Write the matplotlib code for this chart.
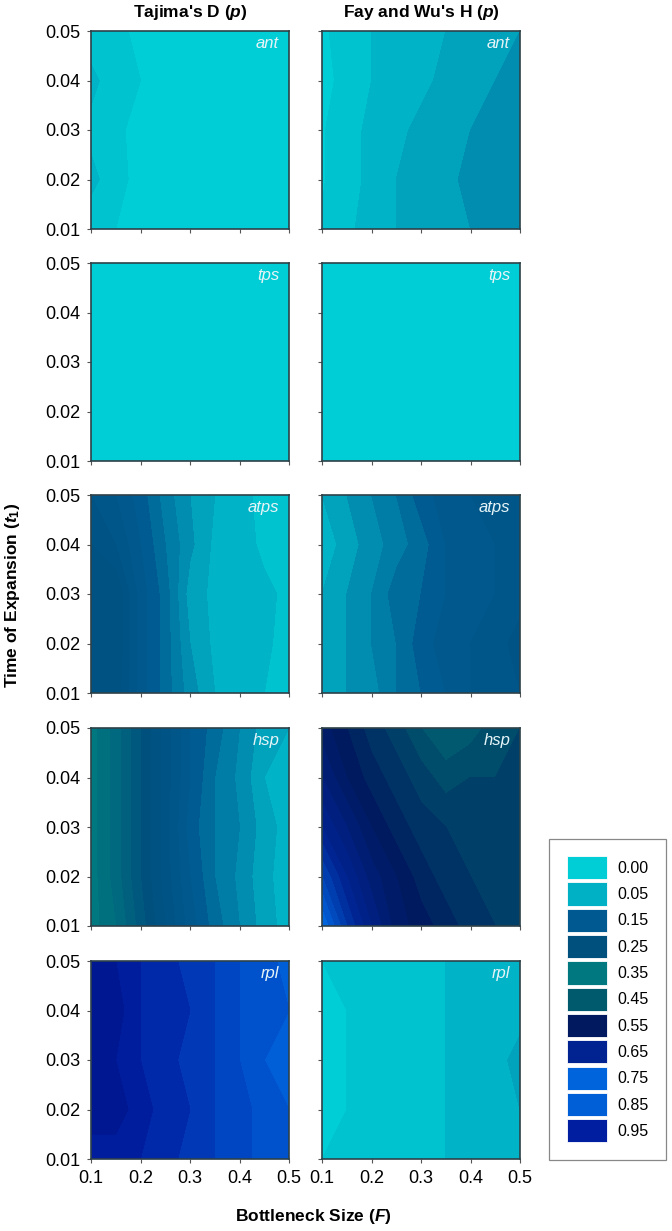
import numpy as np
import matplotlib
matplotlib.use('Agg')
import matplotlib.pyplot as plt
from matplotlib.colors import LinearSegmentedColormap
from matplotlib.patches import Patch

plt.rcParams['font.family'] = ['Liberation Sans', 'DejaVu Sans']
plt.rcParams['mathtext.fontset'] = 'custom'
plt.rcParams['mathtext.it'] = 'Liberation Sans:italic:bold'
plt.rcParams['mathtext.rm'] = 'Liberation Sans:bold'
plt.rcParams['mathtext.bf'] = 'Liberation Sans:bold'

# grid: bottleneck size (F) by time of expansion (t1)
F = [0.1, 0.15, 0.2, 0.25, 0.3, 0.35, 0.4, 0.45, 0.5]
t1 = [0.01, 0.02, 0.03, 0.04, 0.05]

# p-values, rows = t1 (bottom to top), cols = F
tajima_ant = [[0.03, 0.02, 0.008, 0.0, 0.0, 0.0, 0.0, 0.0, 0.0],
              [0.045, 0.03, 0.01, 0.0, 0.0, 0.0, 0.0, 0.0, 0.0],
              [0.035, 0.025, 0.012, 0.0, 0.0, 0.0, 0.0, 0.0, 0.0],
              [0.045, 0.03, 0.02, 0.01, 0.0, 0.0, 0.0, 0.0, 0.0],
              [0.03, 0.025, 0.015, 0.005, 0.0, 0.0, 0.0, 0.0, 0.0]]
fay_ant = [[0.022, 0.035, 0.05, 0.06, 0.07, 0.075, 0.08, 0.085, 0.09],
           [0.018, 0.032, 0.045, 0.06, 0.07, 0.078, 0.082, 0.095, 0.098],
           [0.018, 0.032, 0.045, 0.055, 0.065, 0.075, 0.08, 0.095, 0.098],
           [0.015, 0.025, 0.04, 0.05, 0.055, 0.065, 0.075, 0.08, 0.085],
           [0.018, 0.025, 0.04, 0.045, 0.055, 0.06, 0.07, 0.075, 0.08]]
tajima_tps = [[0.0, 0.0, 0.0, 0.0, 0.0, 0.0, 0.0, 0.0, 0.0],
              [0.0, 0.0, 0.0, 0.0, 0.0, 0.0, 0.0, 0.0, 0.0],
              [0.0, 0.0, 0.0, 0.0, 0.0, 0.0, 0.0, 0.0, 0.0],
              [0.0, 0.0, 0.0, 0.0, 0.0, 0.0, 0.0, 0.0, 0.0],
              [0.0, 0.0, 0.0, 0.0, 0.0, 0.0, 0.0, 0.0, 0.0]]
fay_tps = [[0.0, 0.0, 0.0, 0.0, 0.0, 0.0, 0.0, 0.0, 0.0],
           [0.0, 0.0, 0.0, 0.0, 0.0, 0.0, 0.0, 0.0, 0.0],
           [0.0, 0.0, 0.0, 0.0, 0.0, 0.0, 0.0, 0.0, 0.0],
           [0.0, 0.0, 0.0, 0.0, 0.0, 0.0, 0.0, 0.0, 0.0],
           [0.0, 0.0, 0.0, 0.0, 0.0, 0.0, 0.0, 0.0, 0.0]]
tajima_atps = [[0.22, 0.23, 0.17, 0.13, 0.09, 0.06, 0.055, 0.04, 0.03],
               [0.24, 0.24, 0.17, 0.13, 0.08, 0.055, 0.05, 0.045, 0.03],
               [0.24, 0.24, 0.17, 0.13, 0.07, 0.055, 0.05, 0.045, 0.035],
               [0.22, 0.2, 0.16, 0.12, 0.085, 0.055, 0.05, 0.035, 0.03],
               [0.2, 0.18, 0.15, 0.11, 0.08, 0.06, 0.045, 0.035, 0.03]]
fay_atps = [[0.06, 0.08, 0.09, 0.12, 0.14, 0.16, 0.18, 0.19, 0.2],
            [0.06, 0.08, 0.1, 0.12, 0.15, 0.17, 0.18, 0.19, 0.21],
            [0.06, 0.08, 0.1, 0.13, 0.14, 0.16, 0.17, 0.18, 0.19],
            [0.045, 0.07, 0.09, 0.11, 0.13, 0.16, 0.17, 0.18, 0.19],
            [0.06, 0.08, 0.1, 0.12, 0.15, 0.17, 0.18, 0.19, 0.2]]
tajima_hsp = [[0.35, 0.32, 0.27, 0.22, 0.17, 0.13, 0.1, 0.07, 0.05],
              [0.35, 0.31, 0.26, 0.21, 0.16, 0.12, 0.095, 0.065, 0.05],
              [0.35, 0.31, 0.26, 0.21, 0.15, 0.12, 0.1, 0.07, 0.05],
              [0.35, 0.31, 0.26, 0.21, 0.16, 0.12, 0.095, 0.06, 0.04],
              [0.35, 0.31, 0.26, 0.21, 0.16, 0.13, 0.1, 0.07, 0.06]]
fay_hsp = [[0.76, 0.68, 0.62, 0.57, 0.55, 0.53, 0.51, 0.5, 0.5],
           [0.7, 0.64, 0.59, 0.56, 0.53, 0.51, 0.5, 0.5, 0.5],
           [0.64, 0.6, 0.56, 0.53, 0.51, 0.5, 0.49, 0.49, 0.49],
           [0.6, 0.56, 0.53, 0.51, 0.49, 0.47, 0.48, 0.48, 0.49],
           [0.57, 0.54, 0.51, 0.49, 0.46, 0.44, 0.45, 0.47, 0.48]]
tajima_rpl = [[0.95, 0.95, 0.94, 0.93, 0.91, 0.9, 0.89, 0.87, 0.86],
              [0.97, 0.97, 0.95, 0.93, 0.92, 0.9, 0.89, 0.87, 0.86],
              [0.97, 0.96, 0.94, 0.93, 0.91, 0.9, 0.88, 0.86, 0.85],
              [0.97, 0.97, 0.94, 0.93, 0.92, 0.9, 0.88, 0.87, 0.86],
              [0.96, 0.96, 0.94, 0.93, 0.91, 0.9, 0.88, 0.87, 0.85]]
fay_rpl = [[0.02, 0.025, 0.03, 0.035, 0.035, 0.04, 0.05, 0.05, 0.06],
           [0.015, 0.02, 0.03, 0.03, 0.035, 0.04, 0.045, 0.05, 0.06],
           [0.01, 0.02, 0.025, 0.03, 0.035, 0.04, 0.045, 0.055, 0.065],
           [0.015, 0.02, 0.03, 0.03, 0.035, 0.04, 0.045, 0.05, 0.055],
           [0.02, 0.025, 0.03, 0.035, 0.035, 0.04, 0.045, 0.05, 0.055]]

rows = ['ant', 'tps', 'atps', 'hsp', 'rpl']
tajima = [tajima_ant, tajima_tps, tajima_atps, tajima_hsp, tajima_rpl]
fay = [fay_ant, fay_tps, fay_atps, fay_hsp, fay_rpl]
col_titles = ["Tajima's D ($p$)", "Fay and Wu's H ($p$)"]

legend_labels = ['0.00', '0.05', '0.15', '0.25', '0.35', '0.45',
                 '0.55', '0.65', '0.75', '0.85', '0.95']
legend_colors = ['#00ced6', '#00b0c4', '#005a91', '#00507d', '#007880', '#005a6e',
                 '#00195f', '#002391', '#0064dc', '#005fd7', '#001ea0']

# gradient between the legend colours
anchors = [(0.0, '#00ced6'), (0.015, '#00ced6')]
for lab, c in zip(legend_labels[1:], legend_colors[1:]):
    anchors.append((float(lab), c))
anchors.append((1.0, '#000f82'))
cmap = LinearSegmentedColormap.from_list('sigma', anchors)
levels = np.linspace(0, 1, 51)

W, H = 672, 1231
fig = plt.figure(figsize=(W / 100, H / 100), dpi=100)

col_x = [91, 322]
row_top = [31, 263, 495, 728, 961]
aw, ah = 198, 198
spine_c = '#2e4149'

for r in range(5):
    for c in range(2):
        ax = fig.add_axes([col_x[c] / W, 1 - (row_top[r] + ah) / H, aw / W, ah / H])
        z = np.array(tajima[r] if c == 0 else fay[r])
        ax.contourf(F, t1, z, levels=levels, cmap=cmap, vmin=0, vmax=1)
        ax.set_xlim(0.1, 0.5)
        ax.set_ylim(0.01, 0.05)
        ax.set_xticks([0.1, 0.2, 0.3, 0.4, 0.5])
        ax.set_yticks([0.01, 0.02, 0.03, 0.04, 0.05])
        ax.tick_params(direction='out', length=3, width=0.8, color='#555555',
                       labelsize=13, pad=5)
        if c == 1:
            ax.set_yticklabels([])
        if r < 4:
            ax.set_xticklabels([])
        for s in ax.spines.values():
            s.set_color(spine_c)
            s.set_linewidth(1.2)
        ax.text(0.95, 0.935, rows[r], transform=ax.transAxes, ha='right', va='center',
                fontsize=12, fontstyle='italic', color='#e6f4f7')

for c in range(2):
    fig.text((col_x[c] + aw / 2) / W, 1 - 13 / H, col_titles[c], ha='center', va='center',
             fontsize=12.5, fontweight='bold')

fig.text(13 / W, 1 - 595 / H, 'Time of Expansion ($t_1$)', rotation=90,
         ha='center', va='center', fontsize=12.5, fontweight='bold')
fig.text(313 / W, 1 - 1217 / H, 'Bottleneck Size ($F$)', ha='center', va='center',
         fontsize=12.5, fontweight='bold')

handles = [Patch(facecolor=col, edgecolor='white', linewidth=0.6) for col in legend_colors]
leg = fig.legend(handles, legend_labels, loc='lower right',
                 bbox_to_anchor=(666 / W, 1 - 1160 / H), borderaxespad=0,
                 fontsize=11.5, handlelength=2.5, handleheight=1.85, labelspacing=0.2,
                 handletextpad=0.65, borderpad=1.1, fancybox=False, framealpha=1)
leg.get_frame().set_edgecolor('#888888')
leg.get_frame().set_linewidth(0.9)

fig.savefig('out.png', dpi=100)
